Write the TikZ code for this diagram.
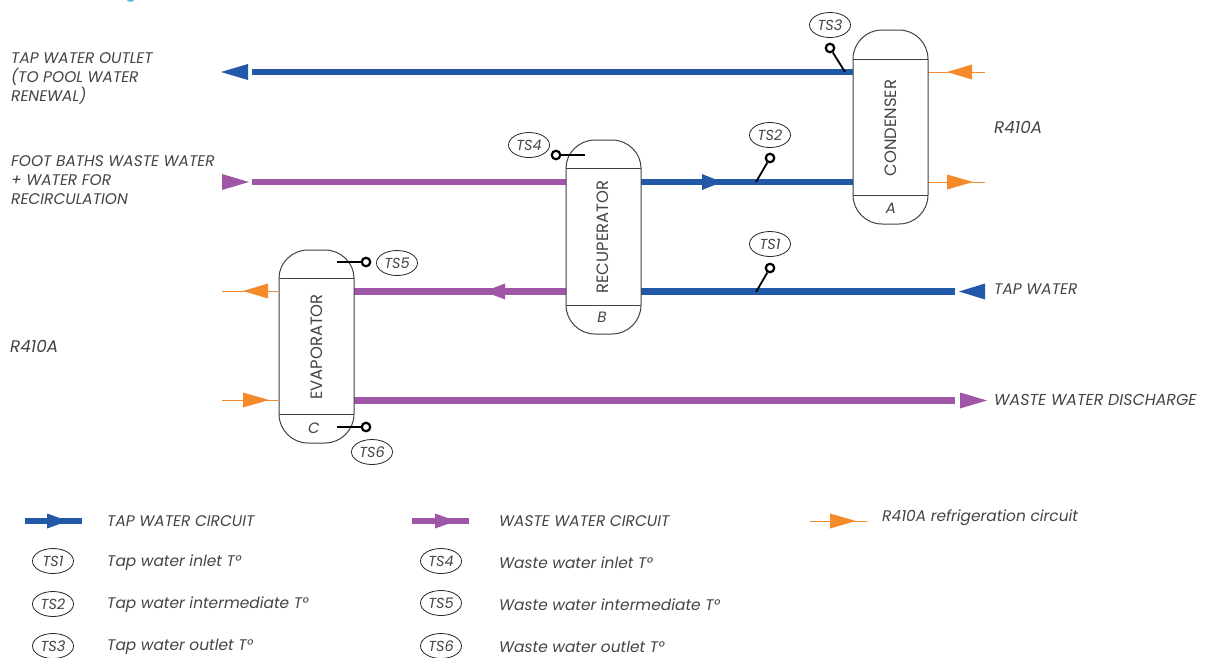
\documentclass[tikz,border=0pt]{standalone}
\usepackage{fontspec}
\setmainfont{Poppins}
\usetikzlibrary{shapes.geometric}
\definecolor{tapblue}{HTML}{2158A8}
\definecolor{wastepurple}{HTML}{A056A6}
\definecolor{refrorange}{HTML}{F58A2A}
\definecolor{txtgrey}{HTML}{444444}
\definecolor{headblue}{HTML}{5AB4E6}
\tikzset{
  x=1pt,y=-1pt,
  lbl/.style={anchor=west,inner sep=0pt,text=txtgrey,font=\fontsize{15.4}{19}\selectfont\itshape,align=left},
  lblr/.style={lbl,font=\fontsize{16.8}{19}\selectfont\itshape},
  lblw/.style={lbl,font=\fontsize{15.85}{19}\selectfont\itshape},
  tapp/.style={draw=tapblue,line width=6.6pt},
  wastep/.style={draw=wastepurple,line width=6.6pt},
  refrp/.style={draw=refrorange,line width=1pt},
  vessel/.style={draw=black!75,line width=1pt,fill=white},
  vtext/.style={rotate=90,inner sep=0pt,text=txtgrey,font=\fontsize{16.4}{18}\selectfont},
  vletter/.style={inner sep=0pt,text=txtgrey,font=\fontsize{15}{16}\selectfont\itshape},
  tsoval/.style={draw=black!85,line width=0.8pt,ellipse,minimum width=41pt,minimum height=25pt,inner sep=0pt,text=txtgrey,font=\fontsize{14.5}{15}\selectfont\itshape},
  probe/.style={circle,draw=black,line width=2.2pt,fill=white,minimum size=8.5pt,inner sep=0pt},
  probeline/.style={draw=black,line width=1.8pt},
}
% #1 left, #2 right, #3 top, #4 top sep, #5 bottom sep, #6 bottom
\newcommand{\vesselshape}[6]{%
  \path[vessel] (#1,#4) .. controls (#1,{#3+13}) and ({#1+13},#3) .. ({#1+29},#3)
     -- ({#2-29},#3) .. controls ({#2-13},#3) and (#2,{#3+13}) .. (#2,#4) -- (#2,#5)
     .. controls (#2,{#6-13}) and ({#2-13},#6) .. ({#2-29},#6)
     -- ({#1+29},#6) .. controls ({#1+13},#6) and (#1,{#6-13}) .. (#1,#5) -- cycle;
  \draw[draw=black!75,line width=1pt] (#1,#4) -- (#2,#4) (#1,#5) -- (#2,#5);
}
% #1 colour, #2 base x, #3 tip x, #4 y, #5 half height
\newcommand{\headshape}[5]{\fill[#1] (#2,{#4-#5}) -- (#3,#4) -- (#2,{#4+#5}) -- cycle;}
\begin{document}
\begin{tikzpicture}
\useasboundingbox (0,0) rectangle (1205,657);
\fill[white] (0,0) rectangle (1205,657);
\fill[headblue] (127,0) -- (134,0) -- (132.5,1.5) -- (128.5,1.5) -- cycle;
% pipes
\coordinate (pa1) at (252,72);  \coordinate (pa2) at (853,72);
\coordinate (pb1) at (252,182); \coordinate (pb2) at (566,182);
\coordinate (pc1) at (641,182); \coordinate (pc2) at (853,182);
\coordinate (pd1) at (641,291.5); \coordinate (pd2) at (955,291.5);
\coordinate (pe1) at (354,291.5); \coordinate (pe2) at (566,291.5);
\coordinate (pf1) at (354,400.5); \coordinate (pf2) at (955,400.5);
\draw[tapp] (pa1) -- (pa2);
\draw[wastep] (pb1) -- (pb2);
\draw[tapp] (pc1) -- (pc2);
\draw[tapp] (pd1) -- (pd2);
\draw[wastep] (pe1) -- (pe2);
\draw[wastep] (pf1) -- (pf2);
\headshape{tapblue}{248}{221}{72}{8}
\headshape{wastepurple}{222}{249}{182}{8}
\headshape{tapblue}{702}{722}{182}{8}
\headshape{tapblue}{985}{959}{291.5}{8}
\headshape{wastepurple}{505}{484}{291.5}{8}
\headshape{wastepurple}{960}{987}{400.5}{8}
% refrigerant
\coordinate (ra1) at (928,72);  \coordinate (ra2) at (985,72);
\coordinate (rb1) at (928,182); \coordinate (rb2) at (985,182);
\coordinate (rc1) at (222,291); \coordinate (rc2) at (278,291);
\coordinate (rd1) at (222,400); \coordinate (rd2) at (278,400);
\draw[refrp] (ra1) -- (ra2);
\draw[refrp] (rb1) -- (rb2);
\draw[refrp] (rc1) -- (rc2);
\draw[refrp] (rd1) -- (rd2);
\headshape{refrorange}{972}{947}{72}{7.5}
\headshape{refrorange}{947}{973}{182}{7.5}
\headshape{refrorange}{268}{243}{291}{7.5}
\headshape{refrorange}{243}{269}{400}{7.5}
% vessels
\vesselshape{853}{928}{30}{59}{195}{224}
\vesselshape{566}{641}{140}{168}{305}{334}
\vesselshape{279}{354}{250}{278}{414}{443}
\node[vtext] (condenser) at (891,128) {CONDENSER};
\node[vtext] (recuperator) at (603,237) {RECUPERATOR};
\node[vtext] (evaporator) at (317,347) {EVAPORATOR};
\node[vletter] (la) at (891,208.5) {A};
\node[vletter] (lb) at (602,317.5) {B};
\node[vletter] (lc) at (314,428) {C};
% probes
\node[probe] (p3) at (830,48) {};
\node[probe] (p2) at (770,158) {};
\node[probe] (p1) at (770,268) {};
\node[probe] (p4) at (556,155) {};
\node[probe] (p5) at (366,262) {};
\node[probe] (p6) at (366,427) {};
\coordinate (e3) at (845,72);
\coordinate (e2) at (756,182);
\coordinate (e1) at (756,292);
\coordinate (e4) at (585,155);
\coordinate (e5) at (337,262);
\coordinate (e6) at (337,427);
\draw[probeline] (p3) -- (e3);
\draw[probeline] (p2) -- (e2);
\draw[probeline] (p1) -- (e1);
\draw[probeline] (p4) -- (e4);
\draw[probeline] (p5) -- (e5);
\draw[probeline] (p6) -- (e6);
\node[tsoval] (t3) at (830,25) {TS3};
\node[tsoval] (t2) at (770,135) {TS2};
\node[tsoval] (t1) at (770,244) {TS1};
\node[tsoval] (t4) at (529,145) {TS4};
\node[tsoval] (t5) at (397,263) {TS5};
\node[tsoval] (t6) at (372,452) {TS6};
% labels
\node[lbl] (n1) at (11,78) {TAP WATER OUTLET\\(TO POOL WATER\\RENEWAL)};
\node[lbl] (n2) at (11,180) {FOOT BATHS WASTE WATER\\+ WATER FOR\\RECIRCULATION};
\node[lblr] (n3) at (994,127) {R410A};
\node[lblr] (n4) at (10,346) {R410A};
\node[lbl] (n5) at (994,289) {TAP WATER};
\node[lblw] (n6) at (994,400) {WASTE WATER DISCHARGE};
% legend
\coordinate (la1) at (25,521); \coordinate (la2) at (82,521);
\coordinate (lb1) at (412,521); \coordinate (lb2) at (469,521);
\coordinate (lc1) at (810,521); \coordinate (lc2) at (867,521);
\draw[tapp] (la1) -- (la2);
\draw[wastep] (lb1) -- (lb2);
\draw[refrp] (lc1) -- (lc2);
\headshape{tapblue}{47}{68}{521}{7.5}
\headshape{wastepurple}{435}{456}{521}{7.5}
\headshape{refrorange}{830}{856}{521}{7.5}
\node[lbl] (k1) at (107,521) {TAP WATER CIRCUIT};
\node[lbl] (k2) at (499,521) {WASTE WATER CIRCUIT};
\node[lbl] (k3) at (882,518) {R410A refrigeration circuit};
\node[tsoval] (o1) at (53,561) {TS1};
\node[tsoval] (o2) at (53,604) {TS2};
\node[tsoval] (o3) at (53,646) {TS3};
\node[tsoval] (o4) at (441,561) {TS4};
\node[tsoval] (o5) at (441,603) {TS5};
\node[tsoval] (o6) at (441,646) {TS6};
\node[lbl] (k4) at (107,563) {Tap water inlet T°};
\node[lbl] (k5) at (107,605) {Tap water intermediate T°};
\node[lbl] (k6) at (107,647) {Tap water outlet T°};
\node[lbl] (k7) at (499,563) {Waste water inlet T°};
\node[lbl] (k8) at (499,605) {Waste water intermediate T°};
\node[lbl] (k9) at (499,647) {Waste water outlet T°};
\end{tikzpicture}
\end{document}
